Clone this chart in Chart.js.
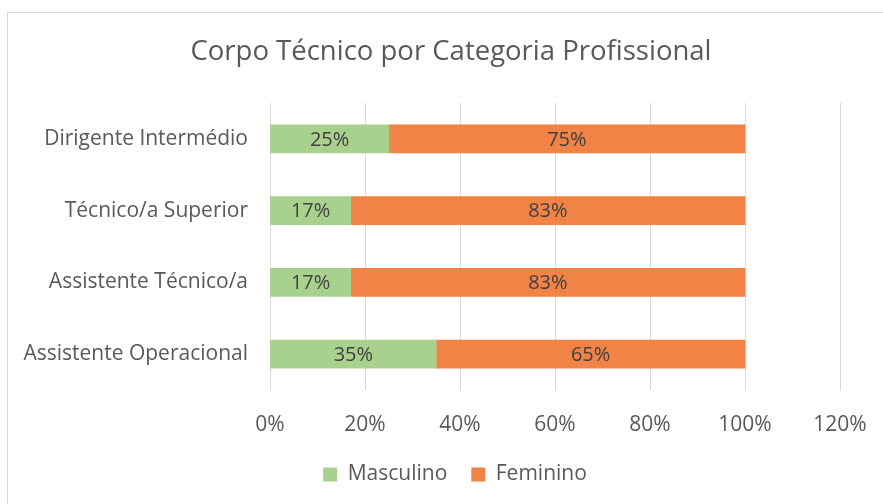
<!DOCTYPE html>
<html>
<head>
<meta charset="utf-8">
<script src="https://cdn.jsdelivr.net/npm/chart.js@4/dist/chart.umd.min.js"></script>
<style>
  html, body { margin: 0; padding: 0; background: #fff; }
  #wrap { position: relative; width: 883px; height: 504px; overflow: hidden; }
  #frame { position: absolute; left: 7px; top: 12px; width: 900px; height: 520px;
           border-left: 1px solid #d9d9d9; border-top: 1px solid #d9d9d9; }
  canvas { position: absolute; left: 0; top: 0; }
</style>
</head>
<body>
<div id="wrap">
  <div id="frame"></div>
  <canvas id="chart" width="883" height="504"></canvas>
</div>
<script>
const categories = ["Dirigente Intermédio", "Técnico/a Superior", "Assistente Técnico/a", "Assistente Operacional"];
const masculino = [25, 17, 17, 35];
const feminino = [75, 83, 83, 65];
const tickLabels = ["0%", "20%", "40%", "60%", "80%", "100%", "120%"];

const textColor = "#595959";
const fontFamily = "'Open Sans', sans-serif";

// value labels centred in each bar segment
const barLabels = {
    id: "barLabels",
    afterDatasetsDraw(chart) {
        const ctx = chart.ctx;
        ctx.save();
        ctx.font = "20px " + fontFamily;
        ctx.fillStyle = "#404040";
        ctx.textAlign = "center";
        ctx.textBaseline = "middle";
        chart.data.datasets.forEach((ds, i) => {
            const meta = chart.getDatasetMeta(i);
            meta.data.forEach((bar, j) => {
                const p = bar.getProps(["x", "y", "base"], true);
                ctx.fillText(ds.data[j] + "%", (p.x + p.base) / 2, p.y + 1);
            });
        });
        ctx.restore();
    }
};

// title and legend sit a bit right of the plot's centre in the original
const shiftBlocks = {
    id: "shiftBlocks",
    afterLayout(chart) {
        if (chart.titleBlock) { chart.titleBlock.left += 31; chart.titleBlock.right += 31; }
        if (chart.legend) { chart.legend.left += 35; chart.legend.right += 35; }
    }
};

new Chart(document.getElementById("chart"), {
    type: "bar",
    data: {
        labels: categories,
        datasets: [
            { label: "Masculino", data: masculino, backgroundColor: "#a9d18e", barThickness: 28 },
            { label: "Feminino", data: feminino, backgroundColor: "#f08345", barThickness: 28 }
        ]
    },
    options: {
        indexAxis: "y",
        responsive: false,
        animation: false,
        layout: { autoPadding: false, padding: { left: 0, right: 43, top: 0, bottom: 9 } },
        plugins: {
            title: {
                display: true,
                text: "Corpo Técnico por Categoria Profissional",
                color: textColor,
                font: { family: fontFamily, size: 27.5, weight: "normal" },
                padding: { top: 36, bottom: 34 }
            },
            legend: {
                position: "bottom",
                labels: {
                    color: textColor,
                    font: { family: fontFamily, size: 21 },
                    boxWidth: 14,
                    boxHeight: 14,
                    padding: 24
                }
            },
            tooltip: { enabled: false }
        },
        scales: {
            x: {
                stacked: true,
                min: 0,
                max: 120,
                afterBuildTicks(scale) {
                    scale.ticks = tickLabels.map((t, i) => ({ value: i * 20 }));
                },
                afterFit(scale) {
                    scale.height = 50;
                    scale.paddingLeft = 0;
                    scale.paddingRight = 0;
                },
                ticks: {
                    color: textColor,
                    font: { family: fontFamily, size: 21 },
                    padding: 22,
                    callback: (v, i) => tickLabels[i]
                },
                grid: { color: "#d9d9d9", lineWidth: 1, drawTicks: false },
                border: { display: false }
            },
            y: {
                stacked: true,
                afterFit(scale) { scale.width = 270; },
                ticks: {
                    color: textColor,
                    font: { family: fontFamily, size: 21 },
                    padding: 22
                },
                grid: { display: false, drawTicks: false },
                border: { display: false }
            }
        }
    },
    plugins: [barLabels, shiftBlocks]
});
</script>
</body>
</html>
